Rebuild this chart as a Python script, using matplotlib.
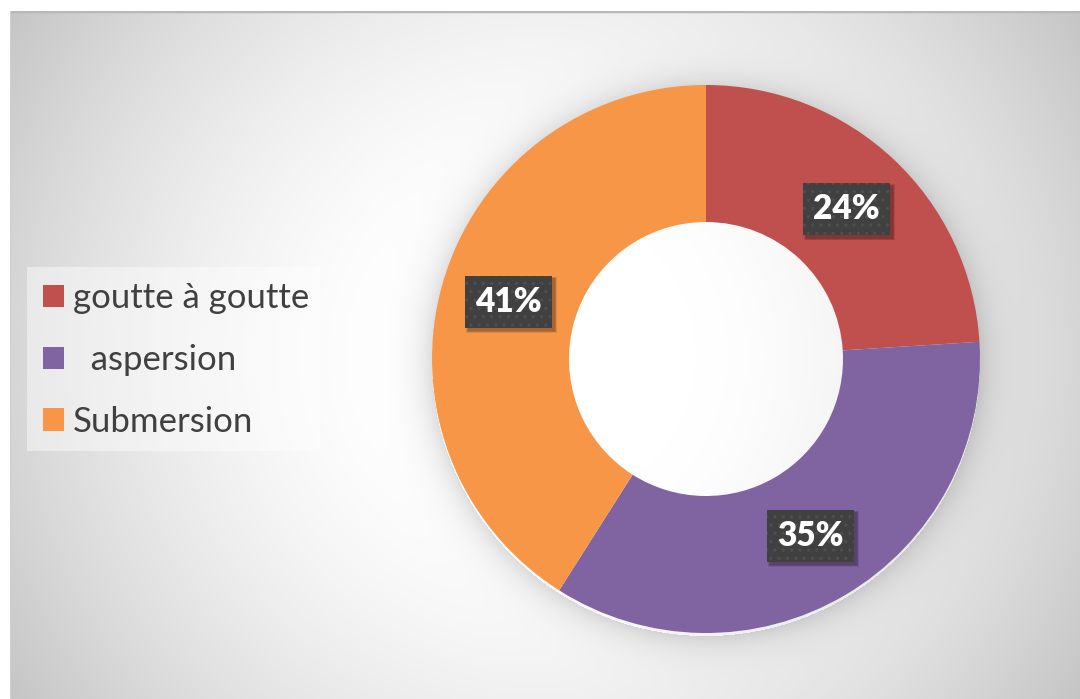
import numpy as np
import matplotlib
matplotlib.use('Agg')
from matplotlib import pyplot as plt
from matplotlib.patches import Rectangle
from matplotlib.transforms import IdentityTransform

methods = ['goutte à goutte', '  aspersion', 'Submersion']
shares = [24, 35, 41]
colors = ['#C0504D', '#8064A2', '#F79646']

W, H = 1080, 699
fig = plt.figure(figsize=(W / 100, H / 100), dpi=100, facecolor='white')

# radial grey background with a soft halo round the ring
px0, py0 = 10, 11
bg = fig.add_axes([px0 / W, 0, (W - px0) / W, (H - py0) / H])
yy, xx = np.mgrid[py0:H, px0:W] + 0.5
d = np.hypot(xx - 545, yy - 355)
t = np.clip((d - 150) / 490, 0, 1)
val = 1 - 0.23 * t ** 1.5
cx, cy, R = 706, 359, 274
dr = np.hypot(xx - cx, yy - (cy + 3)) - R
halo = np.where(dr > 0, 0.13 * np.exp(-dr / 16), 0)
val = val - halo
bg.imshow(np.dstack([val] * 3), extent=(0, 1, 0, 1), aspect='auto',
          interpolation='bilinear')
bg.set_xlim(0, 1)
bg.set_ylim(0, 1)
bg.axis('off')
bg.plot([0, 1], [1, 1], color='#b8b8b8', lw=2.5, transform=bg.transAxes)
bg.plot([0, 0], [0, 1], color='#d0d0d0', lw=1.5, transform=bg.transAxes)

# doughnut
half = 280
ax = fig.add_axes([(cx - half) / W, (H - cy - half) / H, 2 * half / W, 2 * half / H])
wedges, _, pcts = ax.pie(shares, colors=colors, startangle=90, counterclock=False,
                         radius=1, autopct='%.0f%%', pctdistance=0.75,
                         wedgeprops=dict(width=0.5, linewidth=0))
lim = half / R
ax.set_xlim(-lim, lim)
ax.set_ylim(-lim, lim)
ax.set_aspect('equal')
ax.axis('off')

plt.rcParams['hatch.linewidth'] = 1.2
for p in pcts:
    p.set_color('white')
    p.set_fontsize(24)
    p.set_fontweight('heavy')
    p.set_fontfamily('Lato')
    p.set_bbox(dict(boxstyle='square,pad=0.3', facecolor='#404040',
                    edgecolor='#4e4e4e', linewidth=0, hatch='..'))

# legend on a pale panel
fig.patches.append(Rectangle((27 / W, (H - 451) / H), 293 / W, 184 / H,
                             transform=fig.transFigure, facecolor='white',
                             alpha=0.45, edgecolor='none'))
fig.legend(wedges, methods, loc='center left',
           bbox_to_anchor=(29 / W, (H - 360) / H), frameon=False,
           prop={'family': 'Lato', 'size': 25}, labelcolor='#404040',
           handlelength=0.62, handleheight=0.62, handletextpad=0.25,
           labelspacing=0.86, borderaxespad=0)

# soft drop shadows behind the value boxes
fig.canvas.draw()
for p in pcts:
    bb = p.get_bbox_patch().get_window_extent()
    for k in range(4):
        grow = 4 - k
        ax.add_patch(Rectangle((bb.x0 + 3 - grow / 2, bb.y0 - 3 - grow / 2),
                               bb.width + grow, bb.height + grow,
                               transform=IdentityTransform(), facecolor='black',
                               alpha=0.09, edgecolor='none', zorder=2))

fig.savefig('out.png', dpi=100, facecolor='white')
